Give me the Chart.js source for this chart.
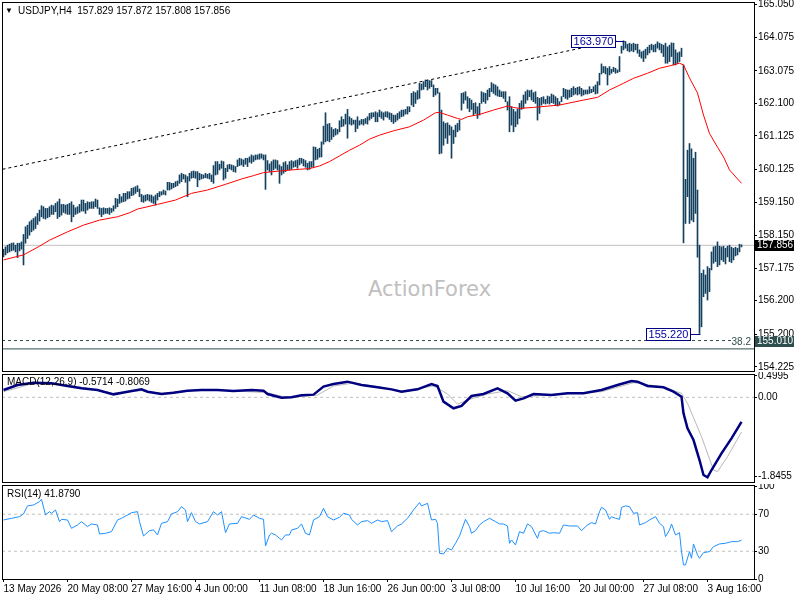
<!DOCTYPE html>
<html><head><meta charset="utf-8">
<script src="https://cdn.jsdelivr.net/npm/chart.js@4.4.1/dist/chart.umd.min.js"></script>
<style>
html,body{margin:0;padding:0;background:#fff;width:800px;height:600px;overflow:hidden;}
canvas{position:absolute;left:0;}
.t{position:absolute;font-family:'Liberation Sans',Arial,sans-serif;font-size:10px;color:#000;white-space:pre;line-height:12px;}
#wm{position:absolute;left:368px;top:277px;font-family:'DejaVu Sans',sans-serif;font-size:21px;color:#c0c0c0;white-space:pre;}
</style></head><body>
<div id="wm">ActionForex</div>
<canvas id="main" width="800" height="372" style="top:0px"></canvas>
<canvas id="macd" width="800" height="112" style="top:372px"></canvas>
<canvas id="rsi" width="800" height="116" style="top:484px"></canvas>
<div class="t" style="left:5px;top:5px;font-size:8px">▼</div>
<div class="t" style="left:18px;top:5px">USDJPY,H4  157.829 157.872 157.808 157.856</div>
<div class="t" style="left:7px;top:376px">MACD(12,26,9) -0.5714 -0.8069</div>
<div class="t" style="left:7px;top:488px">RSI(14) 41.8790</div>
<script>
// ---------- DATA ----------
const priceTicks = [165.050,164.075,163.075,162.100,161.125,160.125,159.150,158.150,157.175,156.200,155.200,154.225];
const timeTicks = [0,32,64,96,128,160,192,224,256,288,320,352];
const timeLabels = ['13 May 2026','20 May 08:00','27 May 16:00','4 Jun 00:00','11 Jun 08:00','18 Jun 16:00','26 Jun 00:00','3 Jul 08:00','10 Jul 16:00','20 Jul 00:00','27 Jul 08:00','3 Aug 16:00'];

const barHigh = [
157.74,157.81,157.86,157.89,157.92,157.93,157.86,157.92,157.92,157.96,
158.18,158.41,158.46,158.56,158.61,158.66,158.71,158.81,158.91,159.04,
159.01,158.96,158.96,159.01,159.06,159.04,159.11,159.16,159.24,159.08,
159.08,159.06,159.08,159.11,159.16,159.06,158.98,159.01,159.08,159.21,
159.21,159.11,159.16,159.14,159.16,159.16,159.24,159.21,158.98,158.96,
158.98,158.96,158.96,158.98,158.96,159.04,159.26,159.24,159.38,159.31,
159.41,159.41,159.46,159.46,159.56,159.58,159.61,159.64,159.54,159.38,
159.34,159.36,159.38,159.36,159.36,159.31,159.36,159.41,159.46,159.46,
159.51,159.48,159.74,159.74,159.71,159.71,159.76,159.78,159.96,160.01,
159.98,159.96,159.91,160.01,160.06,160.08,160.06,160.06,160.01,159.98,
159.96,160.01,159.98,160.01,159.96,160.24,160.36,160.36,160.28,160.38,
160.36,160.16,160.26,160.28,160.26,160.24,160.21,160.41,160.46,160.44,
160.41,160.46,160.46,160.50,160.56,160.53,160.56,160.56,160.59,160.59,
160.56,160.56,160.39,160.29,160.36,160.41,160.41,160.39,160.26,160.21,
160.33,160.36,160.26,160.36,160.39,160.36,160.39,160.41,160.46,160.46,
160.43,160.39,160.31,160.36,160.36,160.80,160.79,160.73,160.76,160.95,
161.42,161.82,161.48,161.50,161.38,161.32,161.35,161.32,161.58,161.70,
161.62,161.78,161.92,161.70,161.65,161.60,161.60,161.70,161.58,161.62,
161.62,161.65,161.70,161.80,161.82,161.82,161.85,161.82,161.90,161.85,
161.82,161.85,161.85,161.82,161.80,161.75,161.75,161.80,161.85,161.90,
161.90,161.92,162.00,162.00,162.40,162.45,162.42,162.48,162.70,162.68,
162.75,162.80,162.80,162.78,162.78,162.65,162.55,162.55,162.42,161.90,
161.55,161.50,161.52,161.45,161.40,161.30,161.45,161.50,161.60,162.40,
162.42,162.45,162.30,162.25,162.20,162.10,162.12,162.00,162.10,162.45,
162.42,162.40,162.50,162.55,162.72,162.68,162.65,162.60,162.50,162.45,
162.45,162.45,162.15,162.30,162.00,161.92,161.85,161.93,162.10,162.18,
162.35,162.45,162.50,162.48,162.50,162.42,162.45,162.28,162.25,162.28,
162.30,162.22,162.32,162.30,162.38,162.35,162.30,162.25,162.15,162.30,
162.55,162.52,162.50,162.50,162.55,162.60,162.55,162.58,162.60,162.55,
162.50,162.50,162.50,162.60,162.52,162.60,162.65,162.75,163.00,163.28,
163.20,163.20,163.15,163.20,163.12,163.18,163.15,163.10,163.50,163.81,
163.97,163.95,163.87,163.90,163.87,163.90,163.87,163.87,163.70,163.64,
163.67,163.72,163.78,163.84,163.87,163.84,163.87,163.94,163.90,163.87,
163.84,163.90,163.79,163.84,163.91,163.90,163.70,163.61,163.64,163.75,
163.25,159.83,160.70,160.90,160.74,160.46,160.64,159.51,157.86,157.02,
157.12,156.97,157.22,157.17,157.66,157.81,157.83,157.96,157.83,157.81,
157.83,157.77,157.83,157.86,157.80,157.77,157.80,157.77,157.89,157.872
];
const barLow = [
157.51,157.57,157.63,157.66,157.69,157.71,157.66,157.49,157.69,157.74,
157.27,157.92,158.06,158.16,158.26,158.31,158.36,158.48,158.58,158.71,
158.66,158.64,158.68,158.71,158.78,158.78,158.86,158.66,158.71,158.76,
158.84,158.81,158.78,158.78,158.56,158.71,158.78,158.81,158.84,158.88,
158.88,158.81,158.91,158.96,158.96,158.96,159.01,158.96,158.78,158.71,
158.78,158.81,158.81,158.78,158.84,158.88,158.96,159.01,159.11,159.14,
159.16,159.18,159.24,159.26,159.34,159.36,159.41,159.46,159.31,159.16,
159.14,159.18,159.21,159.18,159.14,159.11,159.06,159.21,159.31,159.36,
159.38,159.36,159.51,159.51,159.54,159.58,159.61,159.64,159.71,159.76,
159.84,159.74,159.31,159.78,159.86,159.88,159.86,159.61,159.81,159.84,
159.86,159.88,159.86,159.84,159.76,159.71,159.96,159.98,160.11,160.16,
159.81,159.86,160.06,160.14,160.11,160.06,160.04,160.21,160.24,160.26,
160.21,160.28,160.21,160.34,160.31,160.36,160.41,160.43,160.43,160.46,
160.41,159.53,160.11,160.06,159.96,160.11,160.16,160.11,159.71,159.96,
160.01,160.06,160.11,160.11,160.13,160.19,160.21,160.16,160.26,160.31,
160.23,160.19,160.11,160.13,160.19,160.21,160.41,160.43,160.49,160.50,
160.88,160.95,160.98,160.95,161.02,161.10,161.15,161.18,161.25,161.40,
161.42,161.48,161.06,161.48,161.45,161.48,161.25,161.35,161.45,161.48,
161.45,161.50,161.48,161.60,161.65,161.70,161.55,161.55,161.70,161.65,
161.60,161.70,161.68,161.62,161.55,161.50,161.55,161.60,161.65,161.70,
161.72,161.78,161.78,161.85,162.05,162.00,162.10,162.22,162.25,162.50,
162.52,162.60,162.50,162.55,162.60,162.30,162.35,162.40,160.59,160.61,
160.85,161.06,160.90,161.15,160.46,160.90,161.10,161.25,161.30,161.90,
162.10,162.20,161.95,161.85,161.92,161.75,161.80,161.65,161.75,162.10,
162.15,162.10,162.20,162.30,162.45,162.40,162.35,162.32,162.30,162.30,
162.25,162.15,161.90,161.25,161.45,161.25,161.40,161.48,161.65,161.92,
161.95,162.10,162.20,162.30,162.20,162.15,162.10,161.60,161.80,162.05,
162.10,162.08,162.10,162.08,162.12,162.10,162.05,162.02,162.05,162.15,
162.30,162.25,162.22,162.28,162.30,162.35,162.38,162.35,162.38,162.32,
162.35,162.38,162.38,162.40,162.42,162.45,162.38,162.40,162.65,162.98,
163.02,162.98,162.65,162.95,163.00,163.05,163.00,163.02,163.05,163.60,
163.70,163.75,163.67,163.64,163.67,163.64,163.70,163.60,163.50,163.45,
163.35,163.45,163.55,163.61,163.70,163.64,163.64,163.75,163.70,163.61,
163.50,163.30,163.30,163.35,163.50,163.25,163.25,163.30,163.35,163.50,
157.93,158.51,159.31,158.51,158.61,158.56,158.81,157.50,155.22,155.42,
156.32,156.42,156.22,156.47,157.12,157.32,157.37,157.22,157.27,157.42,
157.37,157.30,157.51,157.37,157.34,157.42,157.54,157.57,157.66,157.808
];

const maBar = [0,10,18,23,32,40,48,57,63,67,77,86,94,102,111,119,125,130,140,148,153,158,163,168,173,178,183,188,195,203,210,216,218,222,227,229,232,238,245,252,255,258,265,278,290,297,303,310,315,322,328,333,338,340,343,347,350,353,357,360,363,369];
const maPrice = [157.42,157.57,157.83,158.01,158.26,158.46,158.61,158.71,158.83,158.94,159.08,159.21,159.41,159.51,159.68,159.84,159.94,160.03,160.09,160.13,160.15,160.23,160.36,160.53,160.70,160.85,161.03,161.15,161.28,161.40,161.60,161.82,161.83,161.75,161.65,161.62,161.70,161.77,161.90,162.02,161.98,161.95,161.98,162.05,162.20,162.28,162.50,162.70,162.85,163.00,163.15,163.22,163.30,163.25,162.86,162.41,161.75,161.20,160.79,160.50,160.11,159.71];

const trendBar = [-0.5, 307];
const trendPrice = [160.13, 163.98];
const lastPrice = 157.856;
const fibLevel = 155.010;
const fibLabel = '38.2';
const lowerLevel = 154.76;
const highMark = {bar: 310, price: 163.970};
const lowMark = {bar: 348, price: 155.220};

const macdTicks = [0.4995, 0, -1.8455];
const macdTickLabels = ['0.4995', '0.00', '-1.8455'];
const macdBar = [0,7,15,24,32,39,47,55,62,69,72,79,85,92,99,107,115,124,130,132,139,144,149,155,160,165,172,179,187,194,199,207,214,217,220,225,229,234,240,247,252,256,260,265,274,282,290,299,307,314,317,322,330,335,339,340,342,345,348,350,352,354,359,364,369];
const macdMain = [0.17,0.286,0.34,0.325,0.263,0.209,0.17,0.069,0.131,0.185,0.131,0.077,0.108,0.155,0.17,0.17,0.147,0.17,0.155,0.077,-0.008,0,0.046,0.062,0.248,0.31,0.364,0.286,0.232,0.185,0.131,0.185,0.31,0.263,-0.101,-0.256,-0.202,0.03,0.077,0.209,0.093,-0.078,-0.024,0.077,0.054,0.093,0.093,0.17,0.286,0.379,0.364,0.263,0.232,0.131,0.015,-0.372,-0.721,-0.993,-1.458,-1.806,-1.86,-1.69,-1.303,-0.954,-0.571];
const sigBar = [0,15,32,49,55,69,79,99,132,140,149,157,165,174,182,199,215,222,227,232,242,252,259,265,299,315,329,339,342,349,355,357,362,369];
const sigVal = [0.131,0.325,0.286,0.155,0.093,0.155,0.093,0.185,0.108,0.015,0.015,0.054,0.263,0.325,0.286,0.15,0.263,0.08,-0.16,-0.063,0.077,0.155,0.015,0.03,0.131,0.34,0.248,0.093,-0.14,-0.915,-1.69,-1.729,-1.38,-0.807];

const rsiTicks = [100, 70, 30, 0];
const rsiLevels = [70, 30];
const rsiBar = [0,4,8,10,12,15,18,19,21,23,24,26,28,29,32,34,37,39,42,44,47,48,51,54,57,59,62,64,67,68,70,73,75,77,79,82,84,87,89,91,92,94,96,98,102,105,107,109,111,113,117,119,123,125,128,130,131,133,134,136,138,139,141,143,144,147,149,151,153,155,158,160,162,165,168,170,173,174,177,179,182,184,187,189,192,194,197,199,202,205,208,209,212,214,216,217,218,220,222,224,226,228,231,233,234,236,238,240,243,246,248,250,252,253,254,256,258,260,262,264,267,268,270,273,275,278,280,283,287,289,292,294,296,298,299,301,303,304,306,308,309,311,313,315,317,318,321,323,326,328,330,331,333,334,336,338,339,340,341,343,344,345,347,348,350,353,355,358,361,364,367,369];
const rsiVal = [63.8,65.6,67.4,70.3,79,80,83.6,86.2,69.2,72.8,71,74.6,62,64.5,63.8,54.8,58.4,62,56.6,59.5,58.4,48.7,49.4,51.2,63.8,65.6,69.2,71.7,72.8,62,46.5,52.3,53,47.6,60.2,62,70.3,72.8,78.2,74.6,62,71.7,62,59.5,62,72.8,69.2,72.8,50.1,59.5,60.2,67.4,64.5,69.2,65.6,64.5,35.7,47.6,49.4,47.6,44,42.2,47.6,47.6,53,54.8,59.5,49.4,47.6,63.8,67.4,76.4,67.4,63.8,66.7,71,69.2,64.5,58.4,62,63.1,60.2,63.8,62,63.1,51.2,57.3,59.5,65.6,74.6,82.6,79,81.8,63.8,64.5,60.2,27.8,27.1,33.2,31.4,38.6,46.5,64.5,56.6,49.4,52.3,58.4,62,65.6,62,59.5,59.5,57.3,38.6,42.2,36.8,51.2,49.4,59.5,56.6,44,51.2,52.3,49.4,50.1,49.4,58.4,57.3,57.3,52.3,58.4,60.9,59.5,72.8,77.5,74.6,64.5,67.4,65.6,64.5,77.5,79,78.2,71,71.7,58.4,60.9,63.8,67.4,60.2,56.6,45.8,53,59.5,47.6,50.1,29.6,15.2,15.2,29.6,22.4,37.9,26,22.4,28.5,29.6,35,37.9,38.6,40.4,40.4,41.88];

// ---------- CHARTS ----------
const X_MIN = -0.75, X_MAX = 375.25;
const FAM = "'Liberation Sans', Arial, sans-serif";
const FONT = {family: FAM, size: 10};
Chart.defaults.font.family = FAM;
Chart.defaults.font.size = 10;

const pts = (xs, ys) => xs.map((x, i) => ({x: x, y: ys[i]}));
const hline = (v, a, b) => [{x: a, y: v}, {x: b, y: v}];

function yAxis(min, max, ticks, fmt) {
  return {
    position: 'right', min: min, max: max,
    afterBuildTicks: s => { s.ticks = ticks.map(v => ({value: v})); },
    afterFit: s => { s.width = 46; s.paddingTop = 0; s.paddingBottom = 0; },
    ticks: {font: FONT, color: '#000', padding: 1, autoSkip: false, callback: fmt},
    grid: {drawOnChartArea: false, drawTicks: true, tickLength: 3, color: '#000'},
    border: {display: false}
  };
}
const hiddenX = {type: 'linear', min: X_MIN, max: X_MAX, display: false, offset: false};

const frame = {
  id: 'frame',
  afterDraw(c) {
    const a = c.chartArea, ctx = c.ctx;
    ctx.save();
    ctx.strokeStyle = '#000'; ctx.lineWidth = 1;
    ctx.strokeRect(Math.round(a.left) + 0.5, Math.round(a.top) + 0.5, Math.round(a.right - a.left), Math.round(a.bottom - a.top));
    ctx.restore();
  }
};

const tags = {
  id: 'tags',
  afterDraw(c) {
    const ctx = c.ctx, ys = c.scales.y, xs = c.scales.x, a = c.chartArea;
    ctx.save();
    ctx.textBaseline = 'middle';
    // fib label
    ctx.font = '10px ' + FAM;
    ctx.fillStyle = '#2F4F4F'; ctx.textAlign = 'right';
    ctx.fillText(fibLabel, a.right - 3, ys.getPixelForValue(fibLevel) + 2);
    // right-axis price tags
    const tag = (price, bg) => {
      const y = Math.round(ys.getPixelForValue(price));
      ctx.fillStyle = bg;
      ctx.fillRect(Math.round(a.right) + 1, y - 5, 39, 11);
      ctx.fillStyle = '#fff'; ctx.textAlign = 'left';
      ctx.fillText(price.toFixed(3), Math.round(a.right) + 3, y + 0.5);
    };
    tag(lastPrice, '#000');
    tag(fibLevel, '#2F4F4F');
    // high / low labels
    ctx.font = '11px ' + FAM;
    const mark = (m, gap) => {
      const bx = xs.getPixelForValue(m.bar);
      const y = Math.round(ys.getPixelForValue(m.price)) + 0.5;
      const txt = m.price.toFixed(3);
      const w = Math.ceil(ctx.measureText(txt).width) + 4;
      const right = Math.round(bx - gap) + 0.5;
      ctx.fillStyle = '#fff';
      ctx.fillRect(right - w, y - 6, w, 12);
      ctx.strokeStyle = '#000080'; ctx.lineWidth = 1;
      ctx.strokeRect(right - w, y - 6, w, 12);
      ctx.beginPath(); ctx.moveTo(right, y); ctx.lineTo(Math.round(bx) + 0.5, y); ctx.stroke();
      ctx.fillStyle = '#0000A0'; ctx.textAlign = 'center';
      ctx.fillText(txt, right - w / 2, y + 0.5);
    };
    mark(highMark, 9);
    mark(lowMark, 10);
    ctx.restore();
  }
};

const lineDS = (data, color, width, order, dash) => ({
  type: 'line', data: data, borderColor: color, borderWidth: width, pointRadius: 0,
  fill: false, tension: 0, order: order, borderDash: dash || []
});

new Chart(document.getElementById('main'), {
  type: 'bar',
  data: {
    datasets: [
      lineDS(hline(lastPrice, X_MIN, X_MAX), '#C0C0C0', 1, 5),
      lineDS(hline(lowerLevel, X_MIN, X_MAX), '#2F4F4F', 1, 4),
      lineDS(hline(fibLevel, X_MIN, 365), '#2F4F4F', 1, 4, [3, 3]),
      lineDS(pts(trendBar, trendPrice), '#000', 1, 3, [3, 3]),
      {type: 'bar', data: barHigh.map((h, i) => ({x: i, y: [barLow[i], h]})),
       backgroundColor: '#13405F', borderWidth: 0, barThickness: 1, order: 2, grouped: false},
      lineDS(pts(maBar, maPrice), '#FF0000', 1, 1)
    ]
  },
  options: {
    responsive: false, animation: false, events: [],
    layout: {padding: {left: 2, top: 2, right: 0, bottom: 1}},
    plugins: {legend: {display: false}, tooltip: {enabled: false}},
    scales: {
      x: hiddenX,
      y: yAxis(154.099, 165.131, priceTicks, v => v.toFixed(3))
    }
  },
  plugins: [frame, tags]
});

new Chart(document.getElementById('macd'), {
  type: 'line',
  data: {
    datasets: [
      lineDS(hline(0, X_MIN, X_MAX), '#C0C0C0', 1, 3, [3, 3]),
      lineDS(pts(sigBar, sigVal), '#B8B8B8', 1, 2),
      lineDS(pts(macdBar, macdMain), '#000080', 2.5, 1)
    ]
  },
  options: {
    responsive: false, animation: false, events: [],
    layout: {padding: {left: 2, top: 2, right: 0, bottom: 2}},
    plugins: {legend: {display: false}, tooltip: {enabled: false}},
    scales: {
      x: hiddenX,
      y: yAxis(-1.969, 0.542, macdTicks, (v, i) => macdTickLabels[i])
    }
  },
  plugins: [frame]
});

new Chart(document.getElementById('rsi'), {
  type: 'line',
  data: {
    datasets: [
      lineDS(hline(rsiLevels[0], X_MIN, X_MAX), '#C0C0C0', 1, 3, [3, 3]),
      lineDS(hline(rsiLevels[1], X_MIN, X_MAX), '#C0C0C0', 1, 3, [3, 3]),
      lineDS(pts(rsiBar, rsiVal), '#1E90FF', 1, 1)
    ]
  },
  options: {
    responsive: false, animation: false, events: [],
    layout: {padding: {left: 2, top: 1, right: 0, bottom: 0}},
    plugins: {legend: {display: false}, tooltip: {enabled: false}},
    scales: {
      x: {
        type: 'linear', min: X_MIN, max: X_MAX, offset: false, position: 'bottom',
        afterBuildTicks: s => { s.ticks = timeTicks.map(v => ({value: v})); },
        afterFit: s => { s.height = 21; s.paddingLeft = 0; s.paddingRight = 0; },
        ticks: {font: FONT, color: '#000', align: 'start', maxRotation: 0, minRotation: 0, autoSkip: false, padding: 1,
                callback: (v, i) => timeLabels[i]},
        grid: {drawOnChartArea: false, drawTicks: true, tickLength: 3, color: '#000'},
        border: {display: false}
      },
      y: yAxis(0, 101.6, rsiTicks, v => String(v))
    }
  },
  plugins: [frame]
});
</script>
</body></html>
